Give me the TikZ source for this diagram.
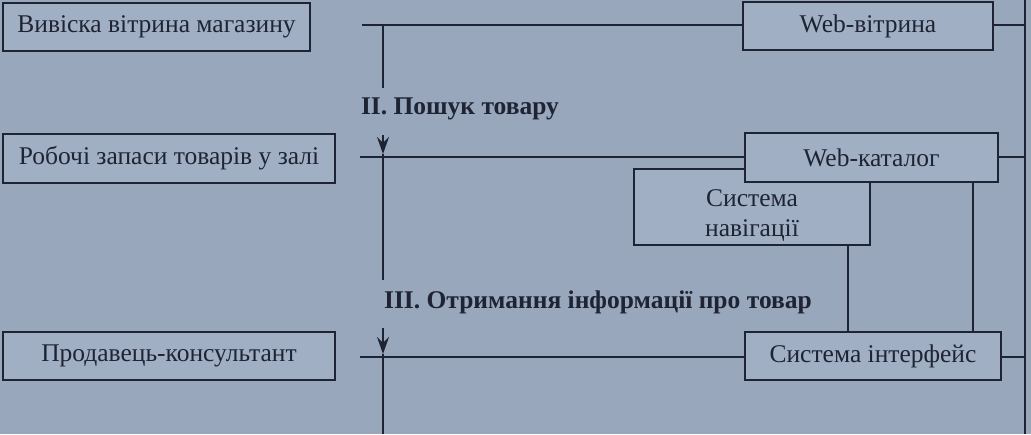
\documentclass[tikz,border=0pt]{standalone}
\usepackage{fontspec}
\setmainfont{Liberation Serif}
\usetikzlibrary{arrows.meta}
\definecolor{paper}{RGB}{152,167,188}
\definecolor{boxfill}{RGB}{160,175,196}
\definecolor{ink}{RGB}{30,36,52}
\tikzset{
  box/.style={draw=ink, line width=1.8pt, fill=boxfill, text=ink, inner sep=0pt, align=center,
    font=\fontsize{25.5}{30}\selectfont},
  link/.style={draw=ink, line width=1.4pt},
  arr/.style={draw=ink, line width=1.4pt, -{Stealth[length=17pt,width=12pt,inset=6pt]}},
  lbl/.style={text=ink, font=\bfseries\fontsize{25.5}{30}\selectfont, inner sep=0pt}
}
\begin{document}
\begin{tikzpicture}[x=1pt,y=-1pt]
\fill[paper] (0,0) rectangle (1031,434);
\useasboundingbox (0,0) rectangle (1031,434);
% left boxes
\node[box, minimum width=307pt, minimum height=48pt] (sign) at (156.5,27) {Вивіска вітрина магазину};
\node[box, minimum width=332pt, minimum height=49pt] (stock) at (169,158.5) {Робочі запаси товарів у залі};
\node[box, minimum width=332pt, minimum height=48pt] (seller) at (169,356) {Продавець-консультант};
% right boxes
\node[box, minimum width=250pt, minimum height=48pt] (webwin) at (868,26) {Web-вітрина};
\node[box, minimum width=236pt, minimum height=76pt] (nav) at (752,207) {\rule{0pt}{33pt}Система\\навігації};
\node[box, minimum width=253pt, minimum height=49pt] (webcat) at (871.5,157.5) {Web-каталог};
\node[box, minimum width=256pt, minimum height=48pt] (iface) at (873,356) {Система інтерфейс};
% labels
\node[lbl] (l2) at (460,109) {II. Пошук товару};
\node[lbl] (l3) at (598,302) {III. Отримання інформації про товар};
% bus coordinates
\coordinate (h1) at (362,25);
\coordinate (h2) at (360,157);
\coordinate (h3) at (360,357);
\coordinate (v1) at (383,25);
\coordinate (v1e) at (383,88);
\coordinate (v2s) at (383,135);
\coordinate (v2t) at (383,154);
\coordinate (v2e) at (383,280);
\coordinate (v3s) at (383,328);
\coordinate (v3t) at (383,354);
\coordinate (v3e) at (383,434);
\coordinate (rt) at (1025,0);
\coordinate (rb) at (1025,434);
% horizontal connectors
\draw[link] (h1) -- (webwin.west |- h1);
\draw[link] (h2) -- (webcat.west |- h2);
\draw[link] (h3) -- (iface.west |- h3);
\draw[link] (webwin.east |- h1) -- (rt |- h1);
\draw[link] (webcat.east |- h2) -- (rt |- h2);
\draw[link] (iface.east |- h3) -- (rt |- h3);
% vertical buses
\draw[link] (v1) -- (v1e);
\draw[arr] (v2s) -- (v2t);
\draw[link] (v2t) -- (v2e);
\draw[arr] (v3s) -- (v3t);
\draw[link] (v3t) -- (v3e);
\draw[link] (rt) -- (rb);
% links to interface
\draw[link] (nav.south -| 848,0) -- (iface.north -| 848,0);
\draw[link] (webcat.south -| 973,0) -- (iface.north -| 973,0);
\end{tikzpicture}
\end{document}
